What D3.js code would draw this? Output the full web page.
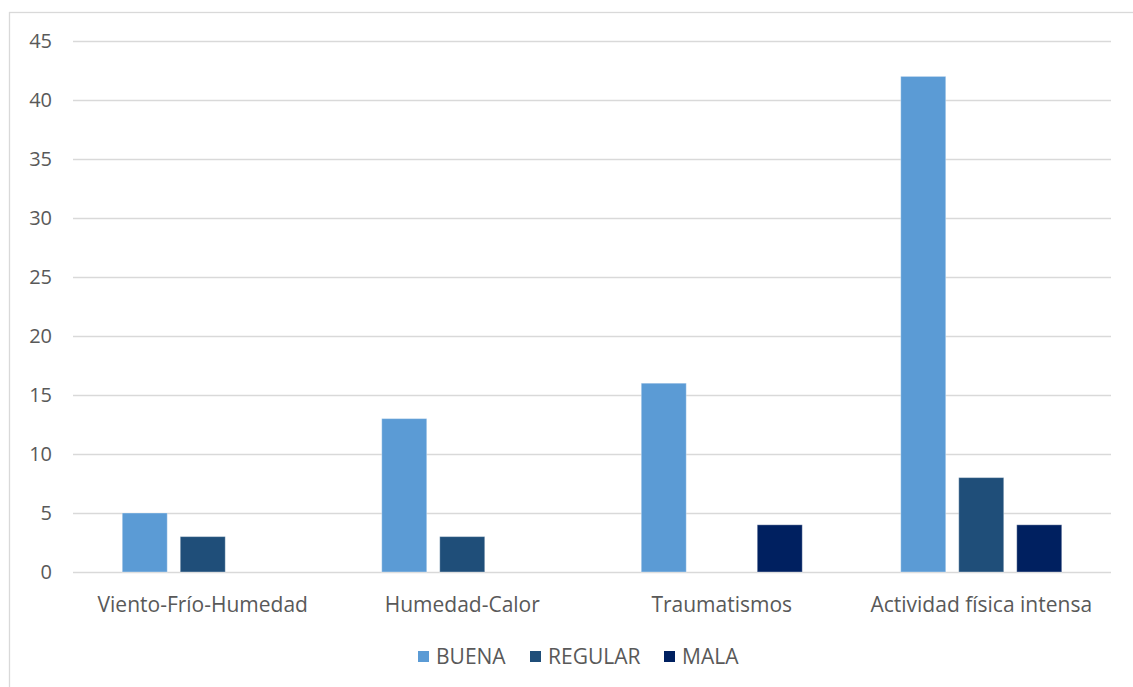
<!DOCTYPE html>
<html><head><meta charset="utf-8">
<script src="https://cdn.jsdelivr.net/npm/d3@7"></script>
<style>body{margin:0;background:#fff}svg{display:block}text{font-family:"Open Sans","Noto Sans",sans-serif}</style>
</head><body><svg id="c" width="1133" height="687"></svg>
<script>
const categories = ["Viento-Frío-Humedad","Humedad-Calor","Traumatismos","Actividad física intensa"];
const seriesNames = ["BUENA","REGULAR","MALA"];
const buena = [5,13,16,42];
const regular = [3,3,0,8];
const mala = [0,0,4,4];
const yTicks = [0,5,10,15,20,25,30,35,40,45];
const colors = ["#5B9BD5","#1F4E79","#002060"];
const seriesValues = [buena, regular, mala];

(function(){
const svg = d3.select("#c");
const FS = "21px";
svg.append("rect").attr("x",9.5).attr("y",12.5).attr("width",1140).attr("height",700)
  .attr("fill","#fff").attr("stroke","#d9d9d9").attr("stroke-width",1.3);

const pL=73, pR=1111, pT=41, pB=572;
const x = d3.scaleBand().domain(categories).range([pL,pR]).padding(0);
const xs = d3.scaleBand().domain(seriesNames).range([0,x.bandwidth()]).paddingInner(0.224).paddingOuter(0.849);
const y = d3.scaleLinear().domain([0,45]).range([pB,pT]);

const yAxis = svg.append("g").attr("transform",`translate(${pL},0)`)
  .call(d3.axisLeft(y).tickValues(yTicks).tickSize(-(pR-pL)).tickPadding(21));
yAxis.select(".domain").remove();
yAxis.selectAll("line").attr("stroke","#d9d9d9").attr("stroke-width",1.3);
yAxis.selectAll("text").attr("fill","#595959").style("font-size","20px");

seriesNames.forEach((s,si)=>{
  svg.append("g").selectAll("rect").data(categories).join("rect")
    .attr("x",c=>x(c)+xs(s)).attr("width",xs.bandwidth())
    .attr("y",(c,i)=>y(seriesValues[si][i]))
    .attr("height",(c,i)=>y(0)-y(seriesValues[si][i]))
    .attr("fill",colors[si]).attr("stroke","#fff").attr("stroke-opacity",0.35).attr("stroke-width",1);
});

const xAxis = svg.append("g").attr("transform",`translate(0,${pB})`)
  .call(d3.axisBottom(x).tickSize(0).tickPadding(25));
xAxis.select(".domain").remove();
xAxis.selectAll("text").attr("fill","#595959").style("font-size",FS);

const legendX = [418, 530, 664];
const lg = svg.append("g");
seriesNames.forEach((s,i)=>{
  lg.append("rect").attr("x",legendX[i]).attr("y",651).attr("width",11).attr("height",11).attr("fill",colors[i]);
  lg.append("text").attr("x",legendX[i]+18).attr("y",664).text(s).attr("fill","#595959").style("font-size",FS);
});
})();
</script></body></html>
